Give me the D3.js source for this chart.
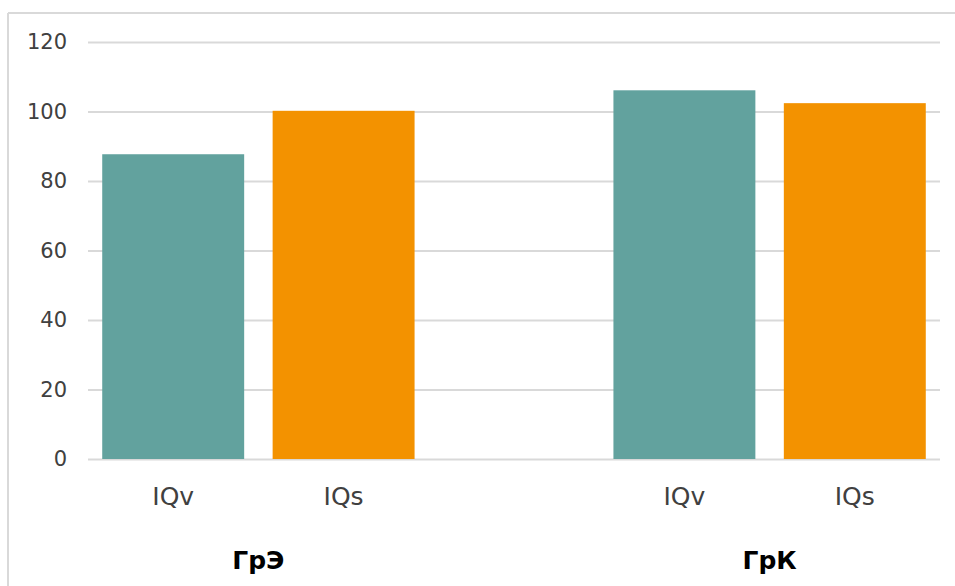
<!DOCTYPE html>
<html>
<head>
<meta charset="utf-8">
<script src="https://cdn.jsdelivr.net/npm/d3@7"></script>
<style>
  body { margin: 0; background: #fff; }
  svg { display: block; }
</style>
</head>
<body>
<div id="chart"></div>
<script>
// five slots on the axis, the middle one is left empty
const slots = ["e-IQv", "e-IQs", "gap", "k-IQv", "k-IQs"];
const slotLabels = ["IQv", "IQs", "", "IQv", "IQs"];
const groups = ["ГрЭ", "ГрК"];
const groupSlots = [["e-IQv", "e-IQs"], ["k-IQv", "k-IQs"]];
const barSlots = ["e-IQv", "e-IQs", "k-IQv", "k-IQs"];
const barValues = [87.7, 100.2, 106.1, 102.4];
const barSeries = ["IQv", "IQs", "IQv", "IQs"];
const yTicks = [0, 20, 40, 60, 80, 100, 120];

const W = 955, H = 586;
const margin = { top: 42, right: 15, bottom: 127, left: 88 };
const width = W - margin.left - margin.right,
      height = H - margin.top - margin.bottom;

const svg = d3.select("#chart")
    .append("svg")
    .attr("width", W)
    .attr("height", H);

// outer chart frame (only top and left show in the crop)
svg.append("line")
    .attr("x1", 8).attr("x2", W).attr("y1", 13).attr("y2", 13)
    .attr("stroke", "#d9d9d9").attr("stroke-width", 2);
svg.append("line")
    .attr("x1", 8).attr("x2", 8).attr("y1", 13).attr("y2", H)
    .attr("stroke", "#d9d9d9").attr("stroke-width", 2);

const g = svg.append("g")
    .attr("transform", `translate(${margin.left}, ${margin.top})`);

const x = d3.scaleBand()
    .domain(slots)
    .range([0, width])
    .paddingInner(0.167)
    .paddingOuter(0.0835);

const y = d3.scaleLinear()
    .domain([0, 120])
    .range([height, 0]);

const color = d3.scaleOrdinal()
    .domain(["IQv", "IQs"])
    .range(["#62a29e", "#f39200"]);

// gridlines + y labels
const yAxis = g.append("g")
    .call(d3.axisLeft(y).tickValues(yTicks).tickSize(-width).tickPadding(21));
yAxis.select(".domain").remove();
yAxis.selectAll(".tick line")
    .attr("stroke", "#d9d9d9")
    .attr("stroke-width", 2);
yAxis.selectAll(".tick text")
    .attr("fill", "#404040")
    .style("font-family", "'DejaVu Sans', sans-serif")
    .style("font-size", "21px");

// bars
g.selectAll("rect.bar")
    .data(barSlots)
    .join("rect")
    .attr("class", "bar")
    .attr("x", d => x(d))
    .attr("width", x.bandwidth())
    .attr("y", (d, i) => y(barValues[i]))
    .attr("height", (d, i) => y(0) - y(barValues[i]))
    .attr("fill", (d, i) => color(barSeries[i]));

// category labels
g.selectAll("text.cat")
    .data(slots)
    .join("text")
    .attr("class", "cat")
    .attr("x", d => x(d) + x.bandwidth() / 2)
    .attr("y", height + 46)
    .attr("text-anchor", "middle")
    .attr("fill", "#404040")
    .style("font-family", "'DejaVu Sans', sans-serif")
    .style("font-size", "25px")
    .text((d, i) => slotLabels[i]);

// group labels
const step = x.step();
g.selectAll("text.grp")
    .data(groups)
    .join("text")
    .attr("class", "grp")
    .attr("x", (d, i) => {
        const s = groupSlots[i];
        return (x(s[0]) - x.paddingInner() * step / 2 + x(s[1]) + x.bandwidth() + x.paddingInner() * step / 2) / 2;
    })
    .attr("y", height + 110)
    .attr("text-anchor", "middle")
    .attr("fill", "#000")
    .style("font-family", "'DejaVu Sans', sans-serif")
    .style("font-weight", "bold")
    .style("font-size", "25px")
    .text(d => d);
</script>
</body>
</html>
